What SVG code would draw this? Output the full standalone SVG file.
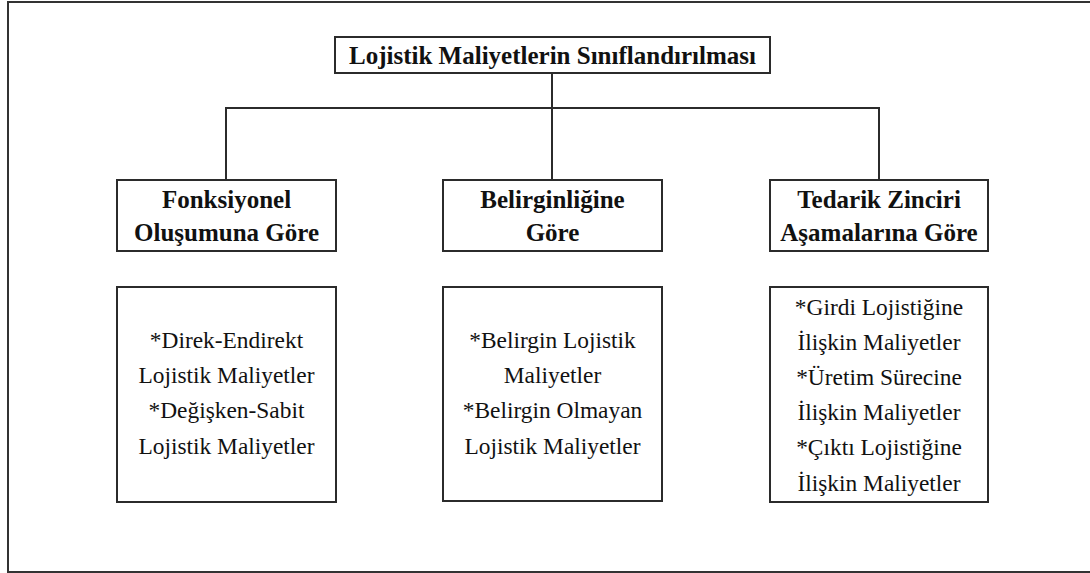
<svg xmlns="http://www.w3.org/2000/svg" width="1090" height="573" viewBox="0 0 1090 573">
  <style>
    .box { fill: #ffffff; stroke: #2b2b2b; stroke-width: 2; }
    .link { fill: none; stroke: #2b2b2b; stroke-width: 2; }
    .frame { fill: none; stroke: #333333; stroke-width: 2; }
    .head { font-family: "Liberation Serif", "Times New Roman", serif; font-weight: bold; font-size: 25px; fill: #111111; text-anchor: middle; }
    .item { font-family: "Liberation Serif", "Times New Roman", serif; font-size: 23.4px; fill: #111111; text-anchor: middle; }
  </style>
  <rect width="1090" height="573" fill="#ffffff"/>

  <!-- outer frame (open on the right) -->
  <path class="frame" d="M1090,2 H8 V572 H1090"/>

  <!-- tree connectors -->
  <g id="connectors">
    <path class="link" d="M552,73 V180"/>
    <path class="link" d="M226,180 V108 H879 V180"/>
  </g>

  <!-- root -->
  <g id="root">
    <rect class="box" x="335" y="37" width="435" height="36"/>
    <text class="head" x="552.5" y="64">Lojistik Maliyetlerin Sınıflandırılması</text>
  </g>

  <!-- category headers -->
  <g id="cat-functional">
    <rect class="box" x="117" y="180" width="219" height="71"/>
    <text class="head" x="226.5" y="208">Fonksiyonel</text>
    <text class="head" x="226.5" y="241">Oluşumuna Göre</text>
  </g>
  <g id="cat-visibility">
    <rect class="box" x="443" y="180" width="219" height="71"/>
    <text class="head" x="552.5" y="208">Belirginliğine</text>
    <text class="head" x="552.5" y="241">Göre</text>
  </g>
  <g id="cat-supply-chain">
    <rect class="box" x="770" y="180" width="218" height="71"/>
    <text class="head" x="879" y="208">Tedarik Zinciri</text>
    <text class="head" x="879" y="241">Aşamalarına Göre</text>
  </g>

  <!-- detail boxes -->
  <g id="list-functional">
    <rect class="box" x="117" y="287" width="219" height="215"/>
    <text class="item" x="226.5" y="348">*Direk-Endirekt</text>
    <text class="item" x="226.5" y="383">Lojistik Maliyetler</text>
    <text class="item" x="226.5" y="418">*Değişken-Sabit</text>
    <text class="item" x="226.5" y="454">Lojistik Maliyetler</text>
  </g>
  <g id="list-visibility">
    <rect class="box" x="443" y="287" width="219" height="214"/>
    <text class="item" x="552.5" y="348">*Belirgin Lojistik</text>
    <text class="item" x="552.5" y="383">Maliyetler</text>
    <text class="item" x="552.5" y="418">*Belirgin Olmayan</text>
    <text class="item" x="552.5" y="454">Lojistik Maliyetler</text>
  </g>
  <g id="list-supply-chain">
    <rect class="box" x="770" y="287" width="218" height="215"/>
    <text class="item" x="879" y="315">*Girdi Lojistiğine</text>
    <text class="item" x="879" y="350">İlişkin Maliyetler</text>
    <text class="item" x="879" y="385">*Üretim Sürecine</text>
    <text class="item" x="879" y="420">İlişkin Maliyetler</text>
    <text class="item" x="879" y="455">*Çıktı Lojistiğine</text>
    <text class="item" x="879" y="491">İlişkin Maliyetler</text>
  </g>
</svg>
